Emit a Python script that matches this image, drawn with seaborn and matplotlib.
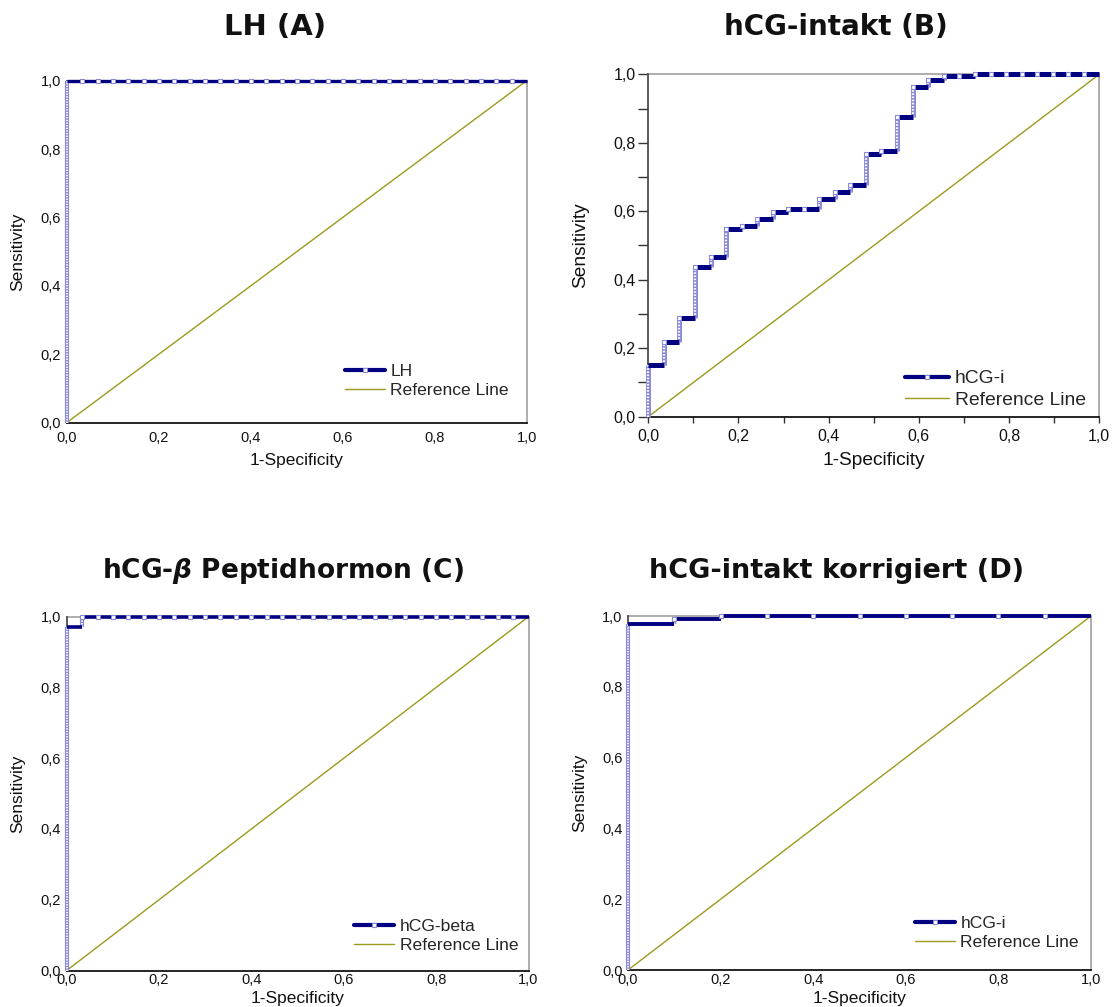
import matplotlib
matplotlib.use("Agg")
import matplotlib.pyplot as plt
from matplotlib.lines import Line2D
from matplotlib.ticker import MultipleLocator, FuncFormatter
import seaborn as sns
import numpy as np

sns.set_theme(style="white")
plt.rcParams['font.family'] = ['Liberation Sans', 'DejaVu Sans']
plt.rcParams['mathtext.fontset'] = 'dejavusans'

# ---------------- data (ROC step points: 1-specificity, sensitivity) ----------------
fpr_A = [0.000, 0.000, 0.033, 0.067, 0.100, 0.133, 0.167, 0.200, 0.233, 0.267, 0.300,
         0.333, 0.367, 0.400, 0.433, 0.467, 0.500, 0.533, 0.567, 0.600, 0.633,
         0.667, 0.700, 0.733, 0.767, 0.800, 0.833, 0.867, 0.900, 0.933, 0.967, 1.000]
tpr_A = [0.000, 1.000, 1.000, 1.000, 1.000, 1.000, 1.000, 1.000, 1.000, 1.000, 1.000,
         1.000, 1.000, 1.000, 1.000, 1.000, 1.000, 1.000, 1.000, 1.000, 1.000,
         1.000, 1.000, 1.000, 1.000, 1.000, 1.000, 1.000, 1.000, 1.000, 1.000, 1.000]

fpr_B = [0.000, 0.000, 0.034, 0.069, 0.103, 0.138, 0.172, 0.207, 0.241, 0.276, 0.310,
         0.345, 0.379, 0.414, 0.448, 0.483, 0.517, 0.552, 0.586, 0.621, 0.655,
         0.690, 0.724, 0.759, 0.793, 0.828, 0.862, 0.897, 0.931, 0.966, 1.000]
tpr_B = [0.000, 0.151, 0.219, 0.289, 0.438, 0.467, 0.547, 0.558, 0.576, 0.597, 0.607,
         0.607, 0.636, 0.656, 0.676, 0.766, 0.775, 0.874, 0.964, 0.982, 0.994,
         0.994, 1.000, 1.000, 1.000, 1.000, 1.000, 1.000, 1.000, 1.000, 1.000]

fpr_C = [0.000, 0.000, 0.033, 0.067, 0.100, 0.133, 0.167, 0.200, 0.233, 0.267, 0.300,
         0.333, 0.367, 0.400, 0.433, 0.467, 0.500, 0.533, 0.567, 0.600, 0.633,
         0.667, 0.700, 0.733, 0.767, 0.800, 0.833, 0.867, 0.900, 0.933, 0.967, 1.000]
tpr_C = [0.000, 0.970, 1.000, 1.000, 1.000, 1.000, 1.000, 1.000, 1.000, 1.000, 1.000,
         1.000, 1.000, 1.000, 1.000, 1.000, 1.000, 1.000, 1.000, 1.000, 1.000,
         1.000, 1.000, 1.000, 1.000, 1.000, 1.000, 1.000, 1.000, 1.000, 1.000, 1.000]

fpr_D = [0.000, 0.000, 0.100, 0.200, 0.300, 0.400, 0.500, 0.600, 0.700, 0.800, 0.900, 1.000]
tpr_D = [0.000, 0.976, 0.992, 1.000, 1.000, 1.000, 1.000, 1.000, 1.000, 1.000, 1.000, 1.000]

ref_x = [0.0, 1.0]
ref_y = [0.0, 1.0]

titles = ["LH (A)", "hCG-intakt (B)", r"hCG-$\boldsymbol{\beta}$ Peptidhormon (C)",
          "hCG-intakt korrigiert (D)"]
curve_labels = ["LH", "hCG-i", "hCG-beta", "hCG-i"]
ref_label = "Reference Line"
xlabel = "1-Specificity"
ylabel = "Sensitivity"

# ---------------- style ----------------
NAVY = "#000080"
LBLUE = "#8a8ad8"
OLIVE = "#9c9a1c"

W, H = 1116, 1007
fig = plt.figure(figsize=(W / 100, H / 100), dpi=100)
fig.patch.set_facecolor("white")

# panel boxes in pixels: left, top, right, bottom
boxes = [(66.7, 80.7, 526.7, 422.7),
         (648.3, 74.3, 1099.3, 416.7),
         (66.7, 616.7, 528.5, 970.5),
         (628.0, 616.0, 1091.0, 970.0)]
scales = [1.0, 1.1, 1.0, 1.0]
title_pos = [(275, 27), (836, 27), (283, 571), (837, 571)]
title_size = [21, 20, 19, 19.5]
ylab_x = [18, 581, 18, 580]
xlab_top = [453, 452, 991, 991]
xtick_pad = [6, 5, 2, 2]
leg_pos = [(345, 364), (905, 370), (354, 919), (915, 916)]
curve_lw = [2.4, 3.6, 2.6, 2.8]
ladder_w = [3.0, 3.6, 3.0, 3.0]

data = [(fpr_A, tpr_A), (fpr_B, tpr_B), (fpr_C, tpr_C), (fpr_D, tpr_D)]

fmt = FuncFormatter(lambda v, p: f"{v:.1f}".replace(".", ","))

for i, ((l, t, r, b), (fx, ty)) in enumerate(zip(boxes, data)):
    s = scales[i]
    ax = fig.add_axes([l / W, 1 - b / H, (r - l) / W, (b - t) / H])
    ax.set_xlim(0, 1)
    ax.set_ylim(0, 1)
    fx = np.asarray(fx)
    ty = np.asarray(ty)

    # reference line
    sns.lineplot(x=ref_x, y=ref_y, ax=ax, color=OLIVE, lw=1.0, zorder=2)

    # vertical "ladder" segments of the ROC step curve
    ax.vlines(fx[1:], ty[:-1], ty[1:], color=LBLUE, lw=ladder_w[i], zorder=3, clip_on=False)
    ax.vlines(fx[1:], ty[:-1], ty[1:], color="white", lw=ladder_w[i] * 0.45,
              linestyles=(0, (0.7, 0.7)), zorder=3.5, clip_on=False)
    # horizontal navy segments
    ax.hlines(ty[1:-1], fx[1:-1], fx[2:], color=NAVY, lw=curve_lw[i], zorder=4, clip_on=False)
    # white square markers at step points
    sns.scatterplot(x=fx[2:-1], y=ty[2:-1], ax=ax, marker="s", s=10 * s,
                    color="white", edgecolor=LBLUE, linewidth=0.8, zorder=5, clip_on=False)

    # spines
    for side in ["top", "right"]:
        ax.spines[side].set_color("#a0a0a0")
        ax.spines[side].set_linewidth(1.2)
    ax.spines["left"].set_color("#404040")
    ax.spines["bottom"].set_color("#000000")
    ax.spines["left"].set_linewidth(1.2)
    ax.spines["bottom"].set_linewidth(1.2)
    ax.spines["top"].set_zorder(1)

    ax.xaxis.set_major_locator(MultipleLocator(0.2))
    ax.yaxis.set_major_locator(MultipleLocator(0.2))
    ax.xaxis.set_minor_locator(MultipleLocator(0.1))
    ax.yaxis.set_minor_locator(MultipleLocator(0.1))
    ax.xaxis.set_major_formatter(fmt)
    ax.yaxis.set_major_formatter(fmt)
    if i == 1:
        ax.tick_params(axis="y", which="both", direction="out", length=7, width=1,
                       color="#333333", pad=2, left=True, labelsize=11.5)
        ax.tick_params(axis="x", which="both", direction="out", length=4, width=1,
                       color="#333333", pad=xtick_pad[i], bottom=True, labelsize=11.5)
    else:
        ax.tick_params(axis="y", which="both", direction="out", length=0, pad=4,
                       left=True, labelsize=10.5)
        ax.tick_params(axis="x", which="both", direction="out", length=0, pad=xtick_pad[i],
                       bottom=True, labelsize=10.5)
    for lab in ax.get_xticklabels() + ax.get_yticklabels():
        lab.set_color("#111111")

    ax.set_xlabel(xlabel, fontsize=12.5 * s, color="#111111")
    ax.set_ylabel(ylabel, fontsize=12.5 * s, color="#111111")
    ax.xaxis.set_label_coords(((l + r) / 2 - l) / (r - l), (b - xlab_top[i]) / (b - t))
    ax.xaxis.label.set_va("top")
    ax.yaxis.set_label_coords((ylab_x[i] - l) / (r - l), 0.5)
    ax.yaxis.label.set_va("center")

    handles = [Line2D([], [], color=NAVY, lw=3.0, marker="s", markersize=3.5,
                      markerfacecolor="white", markeredgecolor=LBLUE, markeredgewidth=0.8),
               Line2D([], [], color=OLIVE, lw=1.0)]
    lx, ly = leg_pos[i]
    ax.legend(handles, [curve_labels[i], ref_label], loc="upper left",
              bbox_to_anchor=((lx - l) / (r - l), (b - ly) / (b - t)),
              frameon=False, fontsize=12.6 * s, handlelength=2.3, handletextpad=0.3,
              labelspacing=0.22, borderpad=0, borderaxespad=0, numpoints=1)

    tx, tyy = title_pos[i]
    fig.text(tx / W, 1 - tyy / H, titles[i], ha="center", va="center",
             fontsize=title_size[i], fontweight="bold", family="DejaVu Sans", color="#111111")

fig.savefig("out.png", dpi=100, facecolor="white")
